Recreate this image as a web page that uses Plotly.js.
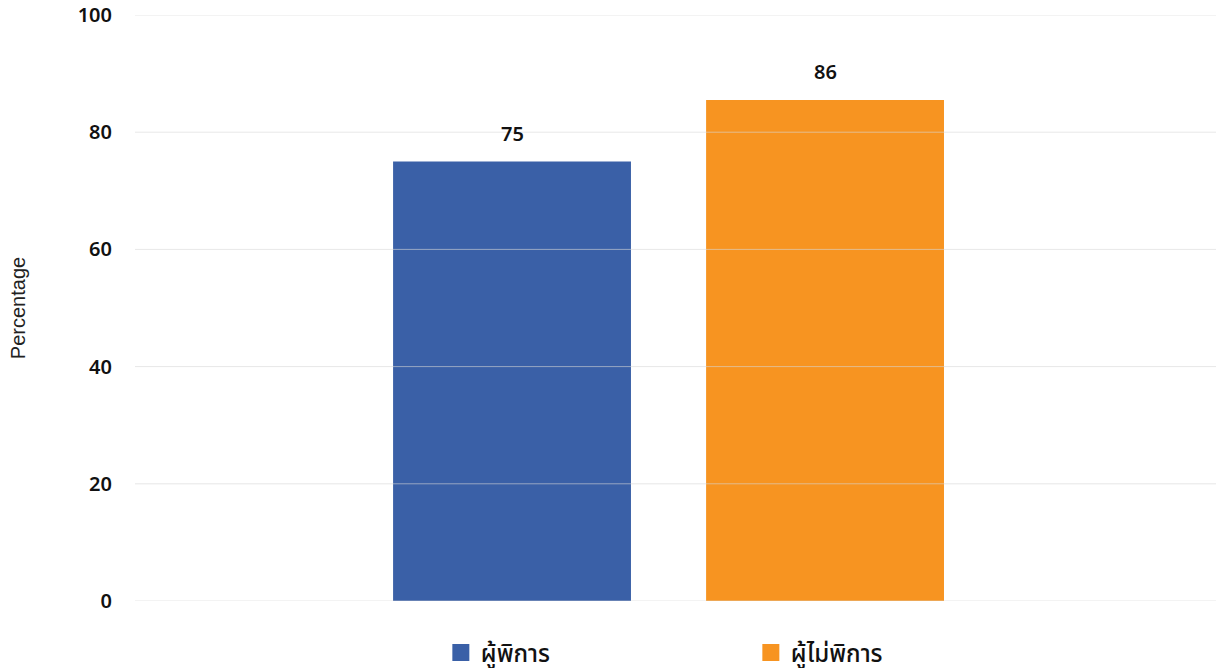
<!DOCTYPE html>
<html><head><meta charset="utf-8">
<script src="https://cdn.plot.ly/plotly-3.0.1.min.js"></script>
<style>html,body{margin:0;padding:0;background:#fff}#chart{width:1216px;height:668px}</style>
</head><body><div id="chart"></div>
<script>
const categories = ['ผู้พิการ', 'ผู้ไม่พิการ'];
const values = [75, 85.5];
const colors = ['#3a60a7', '#f79421'];
const yTicks = [0, 20, 40, 60, 80, 100];

const FONT = '"Noto Sans", "Noto Sans Thai", "Noto Sans CJK SC", sans-serif';

const traces = categories.map((c, i) => ({
  type: 'bar',
  name: c,
  x: [c],
  y: [values[i]],
  marker: { color: colors[i] },
  showlegend: false,
  hoverinfo: 'skip'
}));
// legend entries (no marks), with a thicker swatch
const legendTraces = categories.map((c, i) => ({
  type: 'bar',
  name: c,
  x: [c],
  y: [null],
  marker: { color: colors[i], line: { color: colors[i], width: 5 } },
  showlegend: true,
  hoverinfo: 'skip'
}));

const shapes = yTicks.map(v => ({
  type: 'line', xref: 'paper', x0: 0, x1: 1, yref: 'y', y0: v, y1: v,
  layer: 'above', line: { color: 'rgba(215,215,215,0.6)', width: 1 }
}));

const annotations = categories.map((c, i) => ({
  x: c, y: values[i], xref: 'x', yref: 'y', yanchor: 'bottom', yshift: 13,
  text: String(Math.round(values[i])), showarrow: false,
  font: { family: FONT, size: 20, color: '#111', weight: 600 }
}));

const layout = {
  width: 1216, height: 668,
  margin: { l: 135, r: 0, t: 15, b: 67, autoexpand: false },
  paper_bgcolor: '#fff', plot_bgcolor: '#fff',
  barmode: 'overlay',
  bargap: 0.24,
  showlegend: true,
  legend: {
    orientation: 'h', x: 0.5697, xanchor: 'center', y: -0.05, yanchor: 'top',
    font: { family: FONT, size: 24, color: '#111', weight: 500 },
    entrywidth: 265, itemclick: false, itemdoubleclick: false
  },
  xaxis: {
    type: 'category', range: [-1.2045, 2.249], showticklabels: false,
    showgrid: false, zeroline: false, showline: false, fixedrange: true
  },
  yaxis: {
    range: [0, 100], tickvals: yTicks, ticktext: yTicks.map(String),
    showgrid: false, zeroline: false, showline: false,
    ticks: '', ticklabelstandoff: 22,
    tickfont: { family: FONT, size: 20, color: '#111', weight: 600 },
    title: { text: 'Percentage', standoff: 46, font: { family: '"Liberation Sans", Arial, sans-serif', size: 20, color: '#222' } },
    fixedrange: true
  },
  shapes: shapes,
  annotations: annotations
};

Plotly.newPlot('chart', traces.concat(legendTraces), layout, { displayModeBar: false });
</script></body></html>
